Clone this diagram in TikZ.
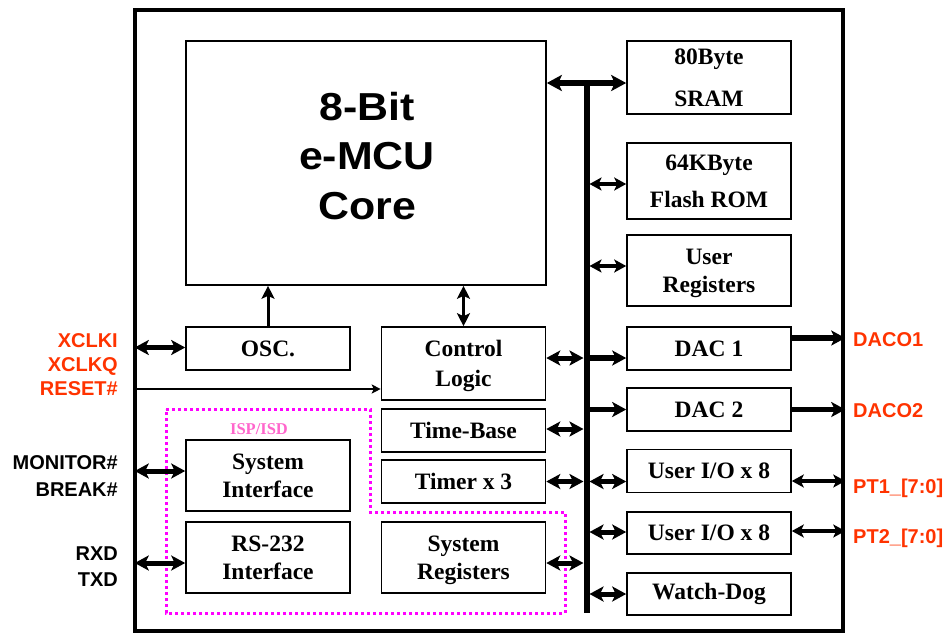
\documentclass[tikz,border=0pt]{standalone}
\usepackage{fontspec}
\setmainfont{Liberation Serif}
\setsansfont{Liberation Sans}
\usetikzlibrary{arrows.meta}
\definecolor{sig}{HTML}{FF3300}
\definecolor{ispline}{HTML}{FF00FF}
\definecolor{isptxt}{HTML}{FF66CC}
\begin{document}
\begin{tikzpicture}[x=1pt,y=-1pt,
  blk/.style={draw, line width=1.6pt, inner sep=0pt, align=center,
    minimum width=164pt, font=\bfseries\fontsize{23.5}{28}\selectfont},
  tipA/.tip={Stealth[length=14pt,width=15pt,inset=3.5pt]},
  tipS/.tip={Stealth[length=12pt,width=13pt,inset=3pt]},
  dbl/.style={tipA-tipA, line width=5pt},
  dbltop/.style={{Stealth[length=15pt,width=16pt,inset=3.5pt]}-{Stealth[length=15pt,width=16pt,inset=3.5pt]}, line width=6pt},
  dblthin/.style={tipS-tipS, line width=4pt},
  sgl/.style={-tipA, line width=5.5pt},
  coreup/.style={-{Stealth[length=13pt,width=13pt,inset=3pt]}, line width=3pt},
  coredbl/.style={{Stealth[length=13pt,width=13pt,inset=3pt]}-{Stealth[length=13pt,width=13pt,inset=3pt]}, line width=3pt},
  thinarr/.style={-{Stealth[length=9pt,width=9pt,inset=2pt]}, line width=1.8pt},
  lab/.style={font=\sffamily\bfseries\fontsize{20}{24}\selectfont, inner sep=0pt},
  labL/.style={lab, anchor=base east},
  labR/.style={lab, anchor=base west, text=sig},
]
\useasboundingbox (0,0) rectangle (947,633);

% outer chip frame
\node[draw, line width=4.5pt, minimum width=708pt, minimum height=621pt, inner sep=0pt] (chip) at (489,320.5) {};

% core
\node[draw, line width=1.6pt, minimum width=360pt, minimum height=244pt, inner sep=0pt] (core) at (366,163) {};
\node[font=\sffamily\bfseries\fontsize{39}{49.5}\selectfont, align=center, inner sep=0pt] (coretxt) at (367,156)
  {\scalebox{1.1}[1]{8-Bit}\\\scalebox{1.1}[1]{e-MCU}\\\scalebox{1.1}[1]{Core}};

% left column
\node[blk, minimum height=43pt] (osc) at (268,348.5) {OSC.};
\node[blk, minimum height=71pt] (sif) at (268,475.5) {System\\Interface};
\node[blk, minimum height=71pt, text depth=-3pt] (rs) at (268,557.5) {RS-232\\Interface};

% middle column
\node[blk, minimum height=73pt, text depth=-2pt, font=\bfseries\fontsize{23.5}{30}\selectfont] (ctrl) at (463.5,363.5) {Control\\Logic};
\node[blk, minimum height=43pt] (tb) at (463.5,430.5) {Time-Base};
\node[blk, minimum height=43pt] (tmr) at (463.5,481.5) {Timer x 3};
\node[blk, minimum height=71pt, text depth=-3pt] (sreg) at (463.5,557.5) {System\\Registers};

% right column
\node[blk, minimum height=73pt, text depth=-2pt, font=\bfseries\fontsize{23.5}{42}\selectfont] (sram) at (709,77.5) {80Byte\\SRAM};
\node[blk, minimum height=76pt, text depth=-6pt, font=\bfseries\fontsize{23.5}{37}\selectfont] (flash) at (709,181) {64KByte\\Flash ROM};
\node[blk, minimum height=71pt, text depth=-4pt] (ureg) at (709,270.5) {User\\Registers};
\node[blk, minimum height=43pt] (dac1) at (709,348.5) {DAC 1};
\node[blk, minimum height=43pt] (dac2) at (709,409.5) {DAC 2};
\node[blk, minimum height=43pt] (io1) at (709,471) {User I/O x 8};
\node[blk, minimum height=42pt] (io2) at (709,533) {User I/O x 8};
\node[blk, minimum height=42pt] (wd) at (709,594) {Watch-Dog};

% ISP/ISD region
\draw[ispline, line width=3pt, dash pattern=on 3pt off 3pt]
  (166,409) -- (370,409) -- (370,512) -- (565,512) -- (565,613) -- (166,613) -- cycle;
\node[text=isptxt, font=\bfseries\fontsize{16.5}{19}\selectfont, inner sep=0pt] (isp) at (259,429) {ISP/ISD};

% bus
\coordinate (bt) at (586.5,83);
\coordinate (bb) at (586.5,613);
\coordinate (bl) at (583.5,0);
\coordinate (br) at (589.5,0);
\draw[line width=6pt] (bt) -- (bb);

% bus connections
\draw[dbltop] (core.east |- bt) -- (sram.west |- bt);
\draw[dblthin] (br |- flash.west) ++(0,3) coordinate (fa) -- (fa -| flash.west);
\draw[dblthin] ([yshift=4.5pt]ureg.west -| br) -- ([yshift=4.5pt]ureg.west);
\coordinate (ydac) at (0,358);
\draw[dbl] (ctrl.east |- ydac) -- (bl |- ydac);
\draw[sgl] (br |- ydac) -- (dac1.west |- ydac);
\draw[sgl] (br |- dac2.west) -- (dac2.west);
\draw[dbl] ([yshift=1.5pt]tb.east) -- ([yshift=1.5pt]tb.east -| bl);
\draw[dbl] (tmr.east) -- (tmr.east -| bl);
\draw[dbl] (br |- tmr.east) -- (io1.west |- tmr.east);
\draw[dbl] ([yshift=1pt]io2.west -| br) -- ([yshift=1pt]io2.west);
\draw[dbl] ([yshift=-5.5pt]sreg.east) -- ([yshift=-5.5pt]sreg.east -| bl);
\draw[dbl] (wd.west -| br) -- (wd.west);

% core links
\draw[coreup] (osc.north) -- (osc.north |- core.south);
\draw[coredbl] (ctrl.north) -- (ctrl.north |- core.south);

% left pins
\draw[dbl] (osc.west -| chip.west) ++(2,-1) coordinate (oa) -- (oa -| osc.west);
\draw[dbl] ([yshift=4.5pt]sif.west -| chip.west) ++(2,0) coordinate (sa) -- (sa -| sif.west);
\draw[dbl] ([yshift=-5.5pt]rs.west -| chip.west) ++(2,0) coordinate (ra) -- (ra -| rs.west);
\coordinate (rst) at (137,389);
\draw[thinarr] (rst) -- (rst -| ctrl.west);

% right pins
\draw[sgl] ([yshift=10.5pt]dac1.east) -- ([yshift=10.5pt]dac1.east -| chip.east);
\draw[sgl] (dac2.east) -- (dac2.east -| chip.east);
\draw[dblthin] ([yshift=-10pt]io1.east) -- ([yshift=-10pt]io1.east -| chip.east);
\draw[dblthin] ([yshift=2pt]io2.east) -- ([yshift=2pt]io2.east -| chip.east);

% labels left
\node[labL, text=sig] (xi) at (118,347.5) {XCLKI};
\node[labL, text=sig] (xq) at (118,371) {XCLKQ};
\node[labL, text=sig] (rstl) at (118,395) {RESET\#};
\node[labL] (mon) at (118,469.5) {MONITOR\#};
\node[labL] (brk) at (118,496.5) {BREAK\#};
\node[labL] (rxd) at (118,560) {RXD};
\node[labL] (txd) at (118,586) {TXD};

% labels right
\node[labR] (d1) at (853,346) {DACO1};
\node[labR] (d2) at (853,417) {DACO2};
\node[labR] (p1) at (853,493) {PT1\_[7:0]};
\node[labR] (p2) at (853,543) {PT2\_[7:0]};
\end{tikzpicture}
\end{document}
